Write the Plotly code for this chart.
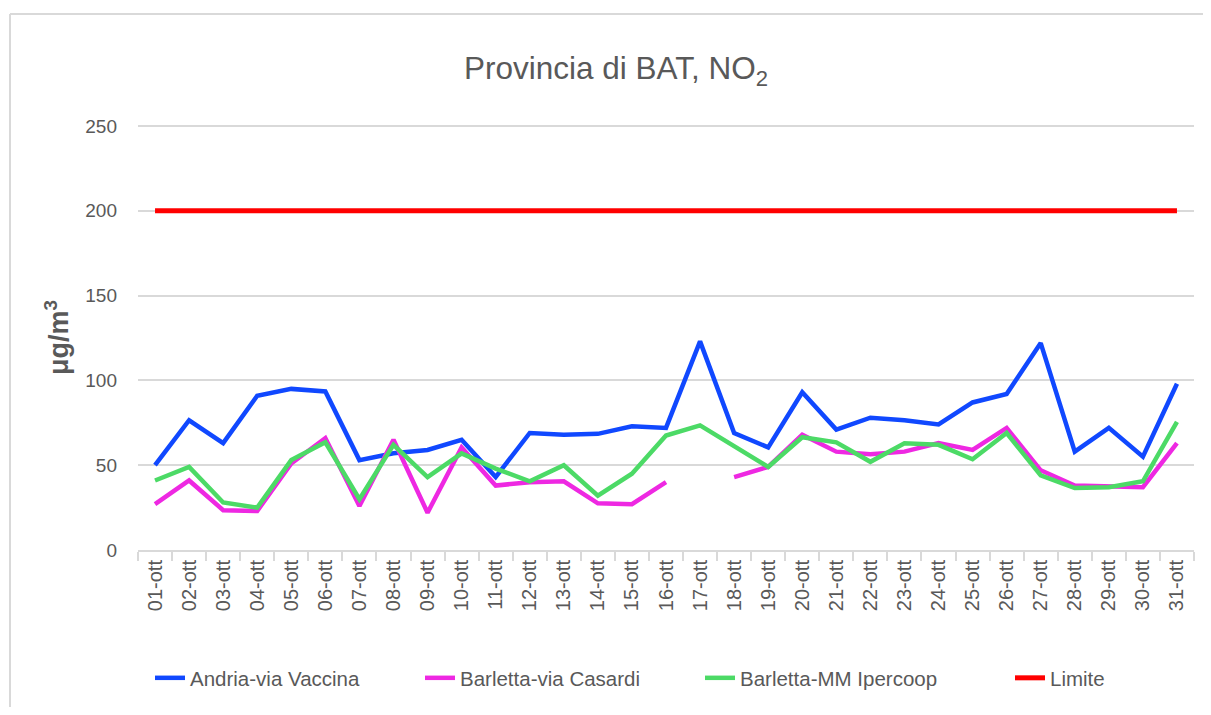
import plotly.graph_objects as go

days = [f"{d:02d}-ott" for d in range(1, 32)]

andria = [50, 76.5, 63, 91, 95, 93.5, 53, 57, 59, 65, 43, 69, 68, 68.5, 73, 72, 123,
          69, 60.5, 93, 71, 78, 76.5, 74, 87, 92, 122, 58, 72, 55, 98]
casardi = [27, 41, 23.5, 23, 51, 66, 26, 65, 22, 60.5, 38, 40, 40.5, 27.5, 27, 40, None,
           43, 49, 68, 58, 56.5, 58, 63, 59, 72, 47, 38, 37.5, 37, 63]
ipercoop = [41, 49, 28, 25, 53, 63.5, 30, 62, 43, 57, 48, 40.5, 50, 32, 45, 67.5, 73.5,
            61, 49, 66.5, 63.5, 52, 63, 62, 53.5, 69, 44, 36.5, 37, 40.5, 75.5]
limite = [200] * 31

series = [
    ("Andria-via Vaccina", andria, "#1048FF"),
    ("Barletta-via Casardi", casardi, "#EE28E2"),
    ("Barletta-MM Ipercoop", ipercoop, "#4CDA66"),
    ("Limite", limite, "#FF0000"),
]

FONT = "Liberation Sans, Arial, sans-serif"
TXT = "#595959"
GRID = "#D9D9D9"

SW, SH = 1211, 715              # browser window
OFF = 8                         # page body margin around the rendered figure
W, H = SW - 2 * OFF, SH - 2 * OFF   # figure + body margins fit the window (no scrollbars)
# target plot area in screen pixels
PX0, PX1, PY0, PY1 = 138, 1194, 125, 550
L, T = PX0 - OFF, PY0 - OFF
R, B = W - (PX1 - OFF), H - (PY1 - OFF)
pw, ph = W - L - R, H - T - B

legend_ids = ["legend", "legend2", "legend3", "legend4"]
legend_text_x = [190, 460, 740, 1050]

fig = go.Figure()
for (name, vals, col), lid in zip(series, legend_ids):
    fig.add_trace(go.Scatter(
        x=days, y=vals, name=name, mode="lines", legend=lid,
        line=dict(color=col, width=5 if name == "Limite" else 4.5),
        connectgaps=False,
    ))

legend_cfg = {}
for lid, tx in zip(legend_ids, legend_text_x):
    legend_cfg[lid] = dict(
        orientation="h", x=(tx - 40 - PX0) / pw, xanchor="left",
        y=(PY1 - 678) / ph, yanchor="middle",
        font=dict(family=FONT, size=20.5, color=TXT),
        bgcolor="rgba(0,0,0,0)",
    )

fig.update_layout(
    width=W, height=H,
    margin=dict(l=L, r=R, t=T, b=B, autoexpand=False),
    paper_bgcolor="white", plot_bgcolor="white",
    font=dict(family=FONT, color=TXT),
    title=dict(text="Provincia di BAT, NO<sub>2</sub>", x=(616 - OFF) / W, xanchor="center",
               y=1 - (68 - OFF) / H, yanchor="middle",
               font=dict(family=FONT, size=31.5, color=TXT)),
    xaxis=dict(
        type="category", range=[-0.5, 30.5], tickangle=-90, automargin=False,
        showgrid=False, showline=True, linecolor=GRID, linewidth=2,
        ticks="outside", tickson="boundaries", ticklen=9, tickcolor=GRID, tickwidth=1.5,
        tickfont=dict(family=FONT, size=20, color=TXT),
    ),
    yaxis=dict(
        range=[0, 250.6], tickvals=[0, 50, 100, 150, 200, 250], automargin=False,
        showgrid=True, gridcolor=GRID, gridwidth=1.5, zeroline=False,
        showline=False, ticks="", ticklabelstandoff=20,
        tickfont=dict(family=FONT, size=19, color=TXT),
        title=dict(text="<b>μg/m<sup>3</sup></b>", standoff=8,
                   font=dict(family=FONT, size=27, color=TXT)),
    ),
    showlegend=True,
    **legend_cfg,
)

# outer chart border: only the top and left edges are visible in the window
bx0 = (10 - PX0) / pw
by1 = (PY1 - 14) / ph
fig.add_shape(type="line", xref="paper", yref="paper",
              x0=bx0, x1=(SW - PX0) / pw, y0=by1, y1=by1,
              line=dict(color=GRID, width=2), layer="below")
fig.add_shape(type="line", xref="paper", yref="paper",
              x0=bx0, x1=bx0, y0=(PY1 - SH) / ph, y1=by1,
              line=dict(color=GRID, width=2), layer="below")

fig.write_html("out.html")
